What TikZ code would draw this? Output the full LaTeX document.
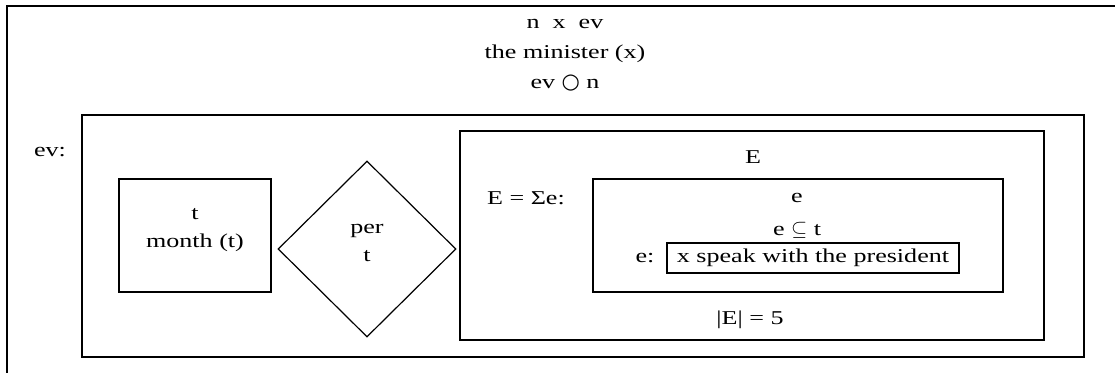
\documentclass[tikz,border=0pt]{standalone}
\usepackage{fontspec}
\setmainfont[FakeStretch=1.33]{Liberation Serif}
\newfontfamily\symfont{DejaVu Sans}
\usepackage{tikz}
\usetikzlibrary{shapes.geometric}

\begin{document}
\begin{tikzpicture}[
  x=1pt, y=-1pt,
  every node/.style={font=\fontsize{19.6}{28}\selectfont},
  framebox/.style={draw, line width=2pt, inner sep=0pt, align=center},
  perbox/.style={draw, diamond, aspect=1, line width=1.2pt, inner sep=0pt, minimum width=178pt, minimum height=176pt}
]
\clip (0,0) rectangle (1115,372);
\draw[line width=2.4pt] (7,6) rectangle (1200,420);

\node[align=center, font=\fontsize{19.6}{30}\selectfont] (head) at (565,55) {n\ \ x\ \ ev\\the minister (x)\\ev {\symfont\fontsize{21}{21}\selectfont ○} n};

\node[framebox, line width=2.4pt, minimum width=1002pt, minimum height=242pt] (ev) at (583,236) {};
\node (evlabel) at (50,152) {ev:};

\node[framebox, minimum width=152pt, minimum height=113pt] (month) at (195,235.5) {};
\node[align=center] (monthtext) at (195,230) {t\\month (t)};
\node[perbox] (per) at (367,249) {};
\node[align=center] (pertext) at (367,243) {per\\t};

\node[framebox, minimum width=584pt, minimum height=209pt] (sumbox) at (752,235.5) {};
\node (sumtop) at (753,157) {E};
\node (sumeq) at (526,198) {E = Σe:};
\node (card) at (750,320) {|E| = 5};

\node[framebox, minimum width=410pt, minimum height=113pt] (ebox) at (798,235.5) {};
\node (etop) at (797,198) {e};
\node (esub) at (797,230) {e $\subseteq$ t};
\node (elabel) at (645,258) {e:};
\node[framebox, line width=1.8pt, minimum width=292pt, minimum height=30pt] (act) at (813,258) {x speak with the president};
\end{tikzpicture}
\end{document}
